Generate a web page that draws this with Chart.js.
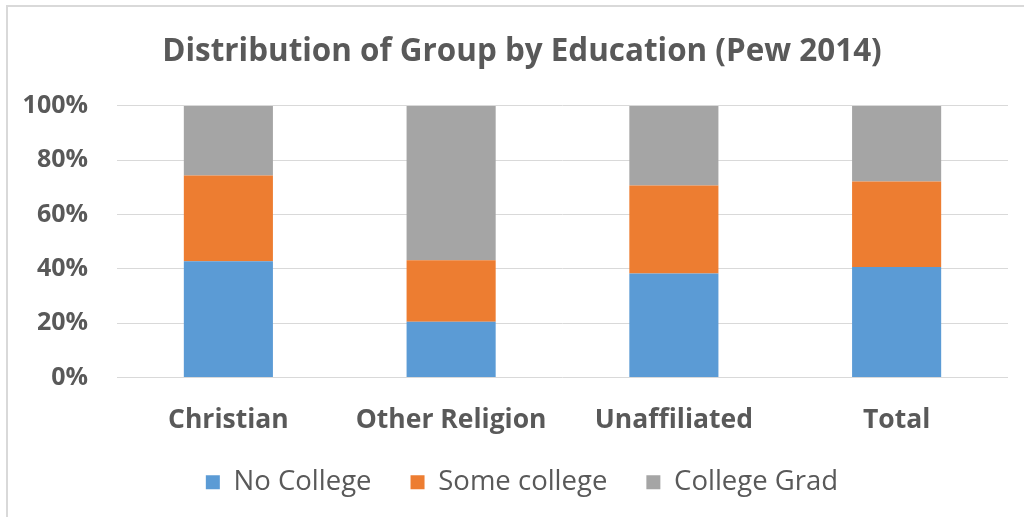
<!DOCTYPE html>
<html>
<head>
<meta charset="utf-8">
<script src="https://cdn.jsdelivr.net/npm/chart.js@4.4.1/dist/chart.umd.min.js"></script>
<style>
  html, body { margin: 0; padding: 0; background: #fff; }
  #wrap { position: relative; width: 1024px; height: 517px; overflow: hidden; }
  #frame { position: absolute; left: 6px; top: 5px; width: 1100px; height: 600px;
           border-left: 2px solid #d9d9d9; border-top: 2px solid #d9d9d9; box-sizing: border-box; }
  canvas { position: absolute; left: 0; top: 0; }
</style>
</head>
<body>
<div id="wrap">
  <div id="frame"></div>
  <canvas id="c" width="1024" height="517"></canvas>
</div>
<script>
const titleText = "Distribution of Group by Education (Pew 2014)";
const categories = ["Christian", "Other Religion", "Unaffiliated", "Total"];
const seriesNames = ["No College", "Some college", "College Grad"];
const noCollege = [42.8, 20.5, 38.3, 40.7];
const someCollege = [31.6, 22.7, 32.4, 31.5];
const collegeGrad = [25.6, 56.8, 29.3, 27.8];
const yTicks = [0, 20, 40, 60, 80, 100];

const colors = ["#5B9BD5", "#ED7D31", "#A5A5A5"];
const textColor = "#595959";
const fontFamily = "'Open Sans', sans-serif";

const seriesValues = [noCollege, someCollege, collegeGrad];

// widen the label clip regions so that tick labels are not cut off
const unclipLabels = {
  id: "unclipLabels",
  afterLayout(chart) {
    chart.scales.y.left = 0;
    chart.scales.x.bottom = chart.height;
  }
};

new Chart(document.getElementById("c"), {
  type: "bar",
  data: {
    labels: categories,
    datasets: seriesNames.map((name, i) => ({
      label: name,
      data: seriesValues[i],
      backgroundColor: colors[i],
      borderWidth: 0,
      categoryPercentage: 1.0,
      barPercentage: 0.4
    }))
  },
  plugins: [unclipLabels],
  options: {
    responsive: false,
    animation: false,
    devicePixelRatio: 1,
    layout: { padding: { left: 36, right: 16, top: 0, bottom: 11 } },
    plugins: {
      title: {
        display: true,
        text: titleText,
        color: textColor,
        font: { family: fontFamily, size: 31.4, weight: "bold" },
        padding: { top: 33.4, bottom: 34.9 }
      },
      legend: {
        position: "bottom",
        labels: {
          color: textColor,
          font: { family: fontFamily, size: 27.5 },
          boxWidth: 14,
          boxHeight: 14,
          padding: 39
        }
      },
      tooltip: { enabled: false }
    },
    scales: {
      x: {
        stacked: true,
        afterFit: (s) => { s.height = 52; },
        grid: { display: false, drawTicks: false },
        border: { display: false },
        ticks: {
          color: textColor,
          font: { family: fontFamily, size: 26.5, weight: "bold" },
          padding: 27
        }
      },
      y: {
        stacked: true,
        min: 0,
        max: 100,
        afterFit: (s) => { s.width = 81; },
        afterBuildTicks: (s) => { s.ticks = yTicks.map(v => ({ value: v })); },
        grid: { color: "#D9D9D9", lineWidth: 1, drawTicks: false },
        border: { display: false },
        ticks: {
          color: textColor,
          font: { family: fontFamily, size: 25, weight: "bold" },
          padding: 29,
          callback: (v) => v + "%"
        }
      }
    }
  }
});
</script>
</body>
</html>
